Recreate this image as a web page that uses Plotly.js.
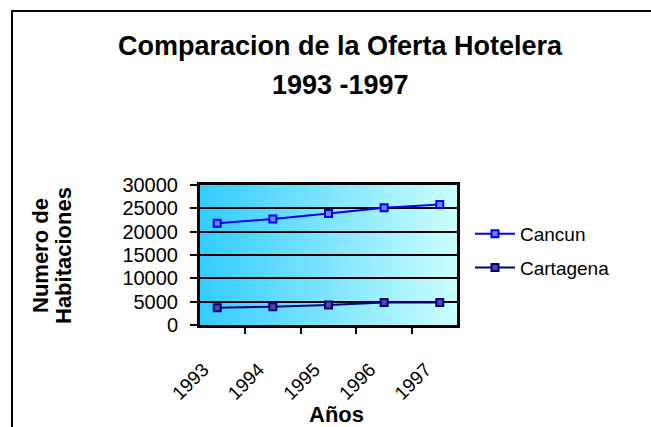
<!DOCTYPE html>
<html>
<head>
<meta charset="utf-8">
<script src="https://cdn.plot.ly/plotly-3.0.1.min.js"></script>
<style>
  html, body { margin: 0; padding: 0; background: #fff; }
  #chart { width: 651px; height: 427px; }
</style>
</head>
<body>
<div id="chart"></div>
<script>
// ---- Data ----
var years = ['1993', '1994', '1995', '1996', '1997'];
var cancun = [21800, 22700, 23900, 25100, 25800];
var cartagena = [3700, 3900, 4300, 4800, 4800];
var yTicks = [0, 5000, 10000, 15000, 20000, 25000, 30000];

// ---- Gradient background for plot area ----
var cv = document.createElement('canvas');
cv.width = 256; cv.height = 16;
var ctx = cv.getContext('2d');
var g = ctx.createLinearGradient(0, 0, 256, 0);
g.addColorStop(0, 'rgb(51,204,255)');
g.addColorStop(1, 'rgb(204,255,255)');
ctx.fillStyle = g;
ctx.fillRect(0, 0, 256, 16);
var bgUrl = cv.toDataURL('image/png');

var FONT = '"Liberation Sans", Arial, sans-serif';

// plot area in pixels: x 200..457, y 185..325
function px(x) { return (x - 200) / 257; }
function py(y) { return (325 - y) / 140; }

var traces = [
  {
    x: years, y: cancun, name: 'Cancun', type: 'scatter', mode: 'lines+markers',
    legendgroup: 'a',
    line: { color: '#0000FF', width: 2 },
    marker: { symbol: 'square', size: 7, color: '#6f86ff', line: { color: '#0000FF', width: 2 } }
  },
  {
    x: years, y: cartagena, name: 'Cartagena', type: 'scatter', mode: 'lines+markers',
    legendgroup: 'b',
    line: { color: '#000080', width: 2 },
    marker: { symbol: 'square', size: 7, color: '#4a4aa0', line: { color: '#000080', width: 2 } }
  }
];

var layout = {
  width: 651, height: 427,
  margin: { l: 200, r: 194, t: 185, b: 102 },
  paper_bgcolor: '#ffffff',
  plot_bgcolor: 'rgba(0,0,0,0)',
  font: { family: FONT, color: '#000000', size: 19 },
  xaxis: {
    type: 'category',
    tickson: 'boundaries',
    ticks: 'outside', ticklen: 6, tickwidth: 2, tickcolor: '#000',
    tickangle: -45,
    tickfont: { family: FONT, size: 19, color: '#000' },
    showline: true, linecolor: '#000', linewidth: 3, mirror: true,
    showgrid: false, zeroline: false,
    ticklabelstandoff: 23, ticklabelshift: -14,
    fixedrange: true
  },
  yaxis: {
    range: [0, 30000],
    tickvals: yTicks,
    ticktext: yTicks.map(String),
    ticks: 'outside', ticklen: 7, tickwidth: 2, tickcolor: '#000',
    tickfont: { family: FONT, size: 20, color: '#000' },
    showline: true, linecolor: '#000', linewidth: 3, mirror: true,
    showgrid: true, gridcolor: '#000', gridwidth: 2,
    zeroline: false,
    ticklabelstandoff: 8,
    fixedrange: true
  },
  showlegend: true,
  legend: {
    x: px(470), xanchor: 'left',
    y: py(215), yanchor: 'top',
    font: { family: FONT, size: 19, color: '#000' },
    bgcolor: 'rgba(0,0,0,0)',
    traceorder: 'grouped',
    tracegroupgap: 6,
    itemwidth: 40
  },
  images: [{
    source: bgUrl, xref: 'paper', yref: 'paper',
    x: 0, y: 1, sizex: 1, sizey: 1, sizing: 'stretch',
    xanchor: 'left', yanchor: 'top', layer: 'below'
  }],
  shapes: [{
    type: 'rect', xref: 'paper', yref: 'paper',
    x0: px(12), x1: 3, y0: -3, y1: py(11),
    line: { color: '#000', width: 2 }, fillcolor: 'rgba(0,0,0,0)', layer: 'below'
  }],
  annotations: [
    {
      text: '<b>Comparacion de la Oferta Hotelera</b>',
      xref: 'paper', yref: 'paper', x: px(340), y: py(46),
      xanchor: 'center', yanchor: 'middle', showarrow: false,
      font: { family: FONT, size: 27, color: '#000' }
    },
    {
      text: '<b>1993 -1997</b>',
      xref: 'paper', yref: 'paper', x: px(340), y: py(85),
      xanchor: 'center', yanchor: 'middle', showarrow: false,
      font: { family: FONT, size: 27, color: '#000' }
    },
    {
      text: '<b>Numero de</b>',
      xref: 'paper', yref: 'paper', x: px(40), y: py(256),
      xanchor: 'center', yanchor: 'middle',
      textangle: -90, showarrow: false,
      font: { family: FONT, size: 22, color: '#000' }
    },
    {
      text: '<b>Habitaciones</b>',
      xref: 'paper', yref: 'paper', x: px(63), y: py(256),
      xanchor: 'center', yanchor: 'middle',
      textangle: -90, showarrow: false,
      font: { family: FONT, size: 22, color: '#000' }
    },
    {
      text: '<b>Años</b>',
      xref: 'paper', yref: 'paper', x: px(336), y: py(414),
      xanchor: 'center', yanchor: 'middle',
      showarrow: false,
      font: { family: FONT, size: 22, color: '#000' }
    }
  ]
};

Plotly.newPlot('chart', traces, layout, { displayModeBar: false, staticPlot: true });
</script>
</body>
</html>
